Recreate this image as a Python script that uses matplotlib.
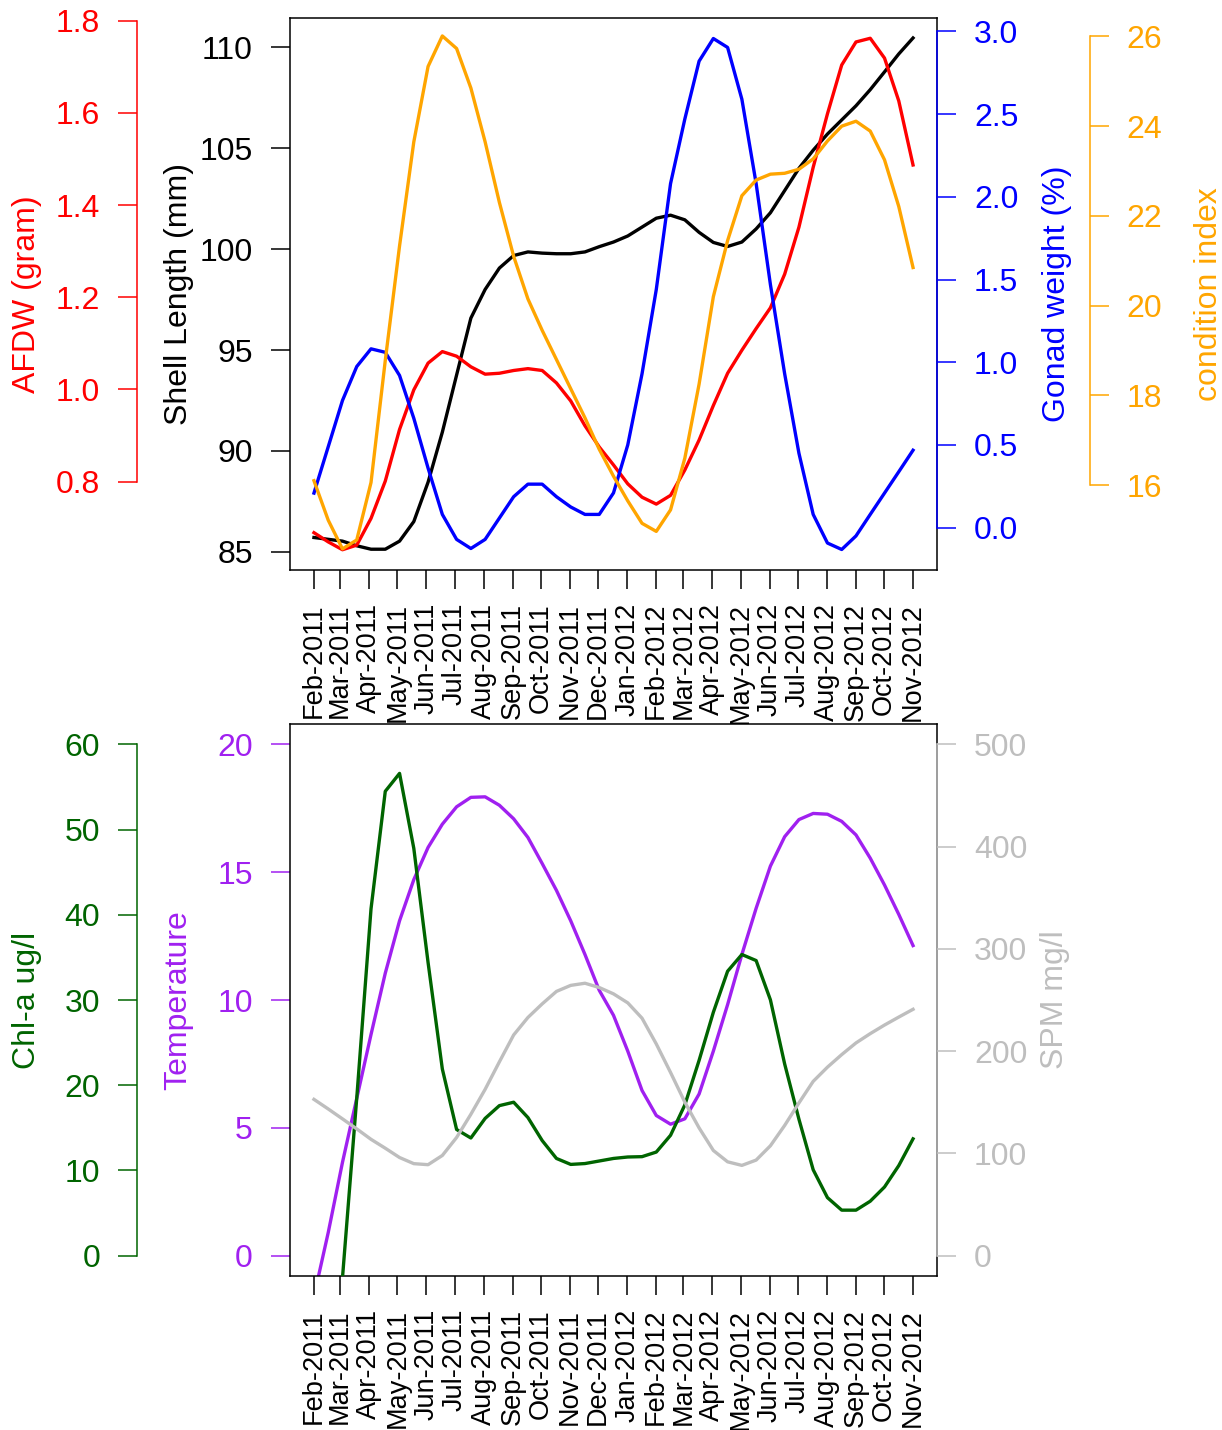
import numpy as np
import pandas as pd
import matplotlib
matplotlib.use('Agg')
import matplotlib.pyplot as plt
from matplotlib.ticker import FormatStrFormatter

plt.rcParams['font.family'] = ['Liberation Sans', 'DejaVu Sans']

months = pd.date_range('2011-02-01', '2012-11-01', freq='MS')
month_labels = [m.strftime('%b-%Y') for m in months]
span = (months[-1] - months[0]).days
month_days = np.array([(m - months[0]).days for m in months])
sample_days = np.linspace(0, span, 2 * len(months) - 1)

shell_length = [85.71, 85.62, 85.53, 85.30, 85.13, 85.13, 85.53, 86.50, 88.45, 90.93,
                93.76, 96.58, 98.00, 99.06, 99.68, 99.86, 99.80, 99.77, 99.77, 99.86,
                100.12, 100.35, 100.65, 101.09, 101.53, 101.68, 101.45, 100.83, 100.33,
                100.13, 100.35, 101.00, 101.80, 102.90, 104.00, 104.90, 105.70, 106.40,
                107.10, 107.90, 108.78, 109.67, 110.46]
afdw = [0.689, 0.669, 0.652, 0.662, 0.720, 0.801, 0.913, 0.999, 1.057, 1.082,
        1.072, 1.049, 1.033, 1.035, 1.041, 1.045, 1.041, 1.014, 0.975, 0.921,
        0.875, 0.836, 0.795, 0.766, 0.751, 0.770, 0.825, 0.890, 0.965, 1.035,
        1.085, 1.132, 1.177, 1.250, 1.352, 1.482, 1.598, 1.704, 1.754, 1.762,
        1.719, 1.626, 1.487]
gonad = [0.209, 0.489, 0.769, 0.974, 1.081, 1.060, 0.920, 0.661, 0.360, 0.080,
         -0.071, -0.126, -0.071, 0.058, 0.187, 0.263, 0.263, 0.187, 0.125, 0.080,
         0.080, 0.210, 0.500, 0.930, 1.440, 2.080, 2.470, 2.820, 2.957, 2.903,
         2.590, 2.080, 1.470, 0.930, 0.450, 0.080, -0.093, -0.132, -0.050, 0.080,
         0.209, 0.338, 0.468]
condition = [16.10, 15.22, 14.58, 14.78, 16.06, 18.78, 21.33, 23.65, 25.33, 26.01,
             25.73, 24.85, 23.65, 22.30, 21.10, 20.15, 19.45, 18.80, 18.15, 17.50,
             16.80, 16.20, 15.65, 15.15, 14.97, 15.45, 16.60, 18.25, 20.20, 21.45,
             22.45, 22.80, 22.93, 22.95, 23.04, 23.27, 23.67, 24.00, 24.11, 23.89,
             23.25, 22.21, 20.85]

temperature = [-1.6, 0.9, 3.65, 6.15, 8.65, 11.05, 13.10, 14.71, 15.97, 16.88,
               17.56, 17.93, 17.95, 17.62, 17.09, 16.36, 15.34, 14.29, 13.10, 11.78,
               10.38, 9.40, 8.00, 6.46, 5.48, 5.14, 5.35, 6.32, 8.00, 9.82,
               11.78, 13.59, 15.24, 16.39, 17.06, 17.30, 17.27, 16.99, 16.46, 15.55,
               14.50, 13.35, 12.13]
chla = [np.nan, np.nan, -2.6, 18.5, 40.7, 54.5, 56.6, 47.8, 34.4, 21.9,
        14.8, 13.8, 16.1, 17.6, 18.0, 16.2, 13.5, 11.4, 10.7, 10.8,
        11.1, 11.4, 11.57, 11.61, 12.15, 14.12, 17.68, 22.91, 28.56, 33.38,
        35.34, 34.63, 30.02, 22.49, 16.01, 10.07, 6.80, 5.33, 5.33, 6.38,
        8.05, 10.56, 13.70]
spm = [152.8, 143.4, 133.7, 123.9, 113.7, 105.0, 95.9, 89.9, 88.9, 97.9,
       115.5, 138.2, 162.6, 189.5, 215.8, 232.9, 246.2, 258.4, 264.3, 266.4,
       262.2, 256.0, 247.2, 232.2, 207.0, 179.1, 150.1, 124.9, 102.8, 91.7,
       88.2, 93.4, 107.4, 127.3, 149.3, 170.4, 184.3, 196.6, 208.0, 217.1,
       225.5, 233.3, 240.9]

shell_ticks = [85, 90, 95, 100, 105, 110]
afdw_ticks = [0.8, 1.0, 1.2, 1.4, 1.6, 1.8]
gonad_ticks = [0.0, 0.5, 1.0, 1.5, 2.0, 2.5, 3.0]
condition_ticks = [16, 18, 20, 22, 24, 26]
temp_ticks = [0, 5, 10, 15, 20]
chla_ticks = [0, 10, 20, 30, 40, 50, 60]
spm_ticks = [0, 100, 200, 300, 400, 500]

RED, BLUE, ORANGE = '#FF0000', '#0000FF', '#FFA500'
GREEN, PURPLE, GREY = '#006400', '#A020F0', '#BEBEBE'

W, H = 1222, 1430
fig = plt.figure(figsize=(W / 100, H / 100), dpi=100)
LW = 2.4
TICK = dict(labelsize=23, length=13.7, width=1.1, pad=13, direction='out')


def px_axes(left, top, right, bottom):
    return fig.add_axes([left / W, 1 - bottom / H, (right - left) / W, (bottom - top) / H])


def month_axis(ax):
    ax.set_xlim(-0.04 * span, span * 1.04)
    ax.set_xticks(month_days)
    ax.set_xticklabels(month_labels, rotation=90, fontsize=19.5)
    ax.tick_params(axis='x', length=13.7, width=1.1, pad=10)
    for s in ax.spines.values():
        s.set_linewidth(1.1)


def extra_axis(host, side, color, ticks, lim, outward=0, fmt=None):
    ax = host.twinx()
    for name, s in ax.spines.items():
        s.set_visible(name == side)
    s = ax.spines[side]
    s.set_color(color)
    s.set_linewidth(1.1)
    s.set_position(('outward', outward))
    s.set_bounds(ticks[0], ticks[-1])
    if side == 'left':
        ax.yaxis.tick_left()
    else:
        ax.yaxis.tick_right()
    ax.set_ylim(*lim)
    ax.set_yticks(ticks)
    if fmt:
        ax.yaxis.set_major_formatter(FormatStrFormatter(fmt))
    ax.tick_params(axis='y', colors=color, **TICK)
    return ax


def side_label(x, y, text, color):
    fig.text(x / W, 1 - y / H, text, rotation=90, ha='center', va='center',
             fontsize=23, color=color)


# top panel: shell growth and condition
ax1 = px_axes(290, 18, 937, 570)
month_axis(ax1)
ax1.plot(sample_days, shell_length, color='black', lw=LW)
ax1.set_ylim(84.1, 111.45)
ax1.set_yticks(shell_ticks)
ax1.tick_params(axis='y', colors='black', **TICK)

ax_afdw = extra_axis(ax1, 'left', RED, afdw_ticks, (0.608, 1.806), 110, '%.1f')
ax_afdw.plot(sample_days, afdw, color=RED, lw=LW)
ax_gonad = extra_axis(ax1, 'right', BLUE, gonad_ticks, (-0.256, 3.081), 0, '%.1f')
ax_gonad.plot(sample_days, gonad, color=BLUE, lw=LW)
ax_ci = extra_axis(ax1, 'right', ORANGE, condition_ticks, (14.11, 26.41), 110)
ax_ci.plot(sample_days, condition, color=ORANGE, lw=LW)

side_label(27, 294, 'AFDW (gram)', RED)
side_label(179, 294, 'Shell Length (mm)', 'black')
side_label(1057, 294, 'Gonad weight (%)', BLUE)
side_label(1209, 294, 'condition index', ORANGE)

# bottom panel: environment
ax2 = px_axes(290, 724, 937, 1276)
month_axis(ax2)
ax2.plot(sample_days, temperature, color=PURPLE, lw=LW)
ax2.set_ylim(-0.8, 20.8)
ax2.set_yticks(temp_ticks)
ax2.tick_params(axis='y', colors=PURPLE, **TICK)

ax_chla = extra_axis(ax2, 'left', GREEN, chla_ticks, (-2.4, 62.4), 110)
ax_chla.plot(sample_days, chla, color=GREEN, lw=LW)
ax_spm = extra_axis(ax2, 'right', GREY, spm_ticks, (-20, 520), 0)
ax_spm.plot(sample_days, spm, color=GREY, lw=LW)

side_label(27, 1000, 'Chl-a ug/l', GREEN)
side_label(178, 1000, 'Temperature', PURPLE)
side_label(1055, 1000, 'SPM mg/l', GREY)

fig.savefig('out.png', dpi=100)
